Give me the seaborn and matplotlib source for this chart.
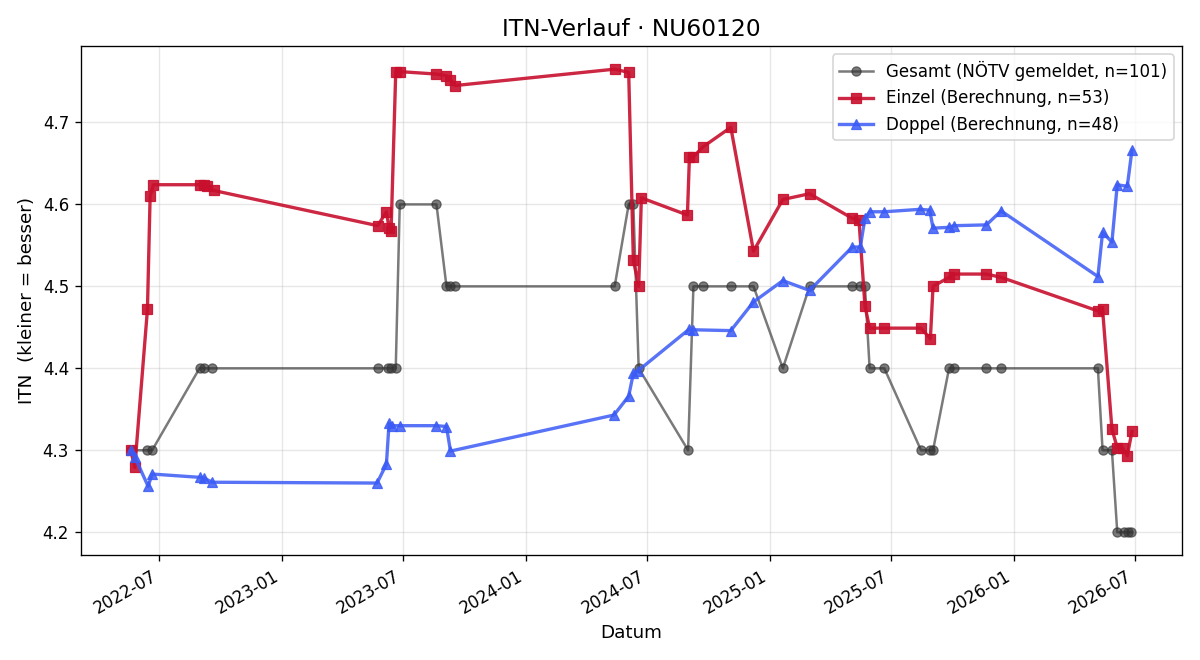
import matplotlib
matplotlib.use("Agg")
import matplotlib.pyplot as plt
import matplotlib.dates as mdates
import pandas as pd
import seaborn as sns

gesamt_dates = ["2022-05-19", "2022-06-13", "2022-06-20", "2022-08-30", "2022-09-06", "2022-09-18",
                "2023-05-24", "2023-06-08", "2023-06-13", "2023-06-20", "2023-06-26", "2023-08-20",
                "2023-09-04", "2023-09-10", "2023-09-17", "2024-05-13", "2024-06-03", "2024-06-10",
                "2024-06-18", "2024-08-31", "2024-09-08", "2024-09-22", "2024-11-03", "2024-12-07",
                "2025-01-20", "2025-03-01", "2025-05-04", "2025-05-16", "2025-05-23", "2025-05-30",
                "2025-06-21", "2025-08-15", "2025-08-29", "2025-09-02", "2025-09-26", "2025-10-03",
                "2025-11-21", "2025-12-13", "2026-05-07", "2026-05-14", "2026-05-28", "2026-06-05",
                "2026-06-15", "2026-06-21", "2026-06-26"]
gesamt_values = [4.3, 4.3, 4.3, 4.4, 4.4, 4.4,
                 4.4, 4.4, 4.4, 4.4, 4.6, 4.6,
                 4.5, 4.5, 4.5, 4.5, 4.6, 4.6,
                 4.4, 4.3, 4.5, 4.5, 4.5, 4.5,
                 4.4, 4.5, 4.5, 4.5, 4.5, 4.4,
                 4.4, 4.3, 4.3, 4.3, 4.4, 4.4,
                 4.4, 4.4, 4.4, 4.3, 4.3, 4.2,
                 4.2, 4.2, 4.2]

einzel_dates = ["2022-05-19", "2022-05-25", "2022-06-13", "2022-06-17", "2022-06-22", "2022-08-30",
                "2022-09-06", "2022-09-10", "2022-09-20", "2023-05-24", "2023-06-06", "2023-06-10",
                "2023-06-13", "2023-06-20", "2023-06-26", "2023-08-20", "2023-09-04", "2023-09-10",
                "2023-09-17", "2024-05-13", "2024-06-03", "2024-06-10", "2024-06-18", "2024-06-22",
                "2024-08-30", "2024-09-02", "2024-09-08", "2024-09-22", "2024-11-03", "2024-12-07",
                "2025-01-20", "2025-03-01", "2025-05-04", "2025-05-14", "2025-05-23", "2025-05-30",
                "2025-06-21", "2025-08-15", "2025-08-29", "2025-09-02", "2025-09-26", "2025-10-03",
                "2025-11-21", "2025-12-13", "2026-05-07", "2026-05-14", "2026-05-28", "2026-06-05",
                "2026-06-13", "2026-06-20", "2026-06-27"]
einzel_values = [4.300, 4.279, 4.472, 4.610, 4.624, 4.624,
                 4.624, 4.622, 4.617, 4.574, 4.591, 4.571,
                 4.567, 4.762, 4.762, 4.759, 4.757, 4.752,
                 4.745, 4.765, 4.761, 4.532, 4.500, 4.608,
                 4.587, 4.658, 4.658, 4.670, 4.694, 4.543,
                 4.606, 4.613, 4.583, 4.581, 4.476, 4.449,
                 4.449, 4.449, 4.436, 4.500, 4.511, 4.515,
                 4.515, 4.511, 4.470, 4.472, 4.326, 4.303,
                 4.303, 4.293, 4.323]

doppel_dates = ["2022-05-19", "2022-05-25", "2022-06-14", "2022-06-20", "2022-08-30", "2022-09-06",
                "2022-09-18", "2023-05-23", "2023-06-06", "2023-06-10", "2023-06-14", "2023-06-26",
                "2023-08-20", "2023-09-04", "2023-09-10", "2024-05-12", "2024-06-03", "2024-06-10",
                "2024-06-17", "2024-09-02", "2024-09-08", "2024-11-03", "2024-12-07", "2025-01-20",
                "2025-03-01", "2025-05-04", "2025-05-16", "2025-05-23", "2025-05-30", "2025-06-21",
                "2025-08-14", "2025-08-28", "2025-09-02", "2025-09-26", "2025-10-03", "2025-11-21",
                "2025-12-13", "2026-05-07", "2026-05-14", "2026-05-28", "2026-06-05", "2026-06-20",
                "2026-06-27"]
doppel_values = [4.300, 4.292, 4.256, 4.271, 4.267, 4.266,
                 4.261, 4.260, 4.283, 4.333, 4.330, 4.330,
                 4.330, 4.329, 4.299, 4.343, 4.366, 4.394,
                 4.397, 4.448, 4.447, 4.446, 4.481, 4.507,
                 4.495, 4.548, 4.548, 4.583, 4.591, 4.591,
                 4.594, 4.593, 4.571, 4.572, 4.574, 4.575,
                 4.592, 4.512, 4.566, 4.554, 4.624, 4.622,
                 4.666]

labels = ["Gesamt (NÖTV gemeldet, n=101)", "Einzel (Berechnung, n=53)", "Doppel (Berechnung, n=48)"]
colors = ["#333333", "#c8102e", "#3b5bf5"]

df_g = pd.DataFrame({"Datum": pd.to_datetime(gesamt_dates), "ITN": gesamt_values})
df_e = pd.DataFrame({"Datum": pd.to_datetime(einzel_dates), "ITN": einzel_values})
df_d = pd.DataFrame({"Datum": pd.to_datetime(doppel_dates), "ITN": doppel_values})

fig, ax = plt.subplots(figsize=(10, 5.5), dpi=120)

sns.lineplot(data=df_g, x="Datum", y="ITN", ax=ax, color=colors[0], alpha=0.65, linewidth=1.5,
             marker="o", markersize=5.5, markeredgecolor=colors[0], estimator=None, sort=False,
             label=labels[0])
sns.lineplot(data=df_e, x="Datum", y="ITN", ax=ax, color=colors[1], alpha=0.9, linewidth=2,
             marker="s", markersize=6.5, markeredgecolor=colors[1], estimator=None, sort=False,
             label=labels[1])
sns.lineplot(data=df_d, x="Datum", y="ITN", ax=ax, color=colors[2], alpha=0.85, linewidth=2,
             marker="^", markersize=6.5, markeredgecolor=colors[2], estimator=None, sort=False,
             label=labels[2])

ax.set_title("ITN-Verlauf · NU60120", fontsize=14)
ax.set_xlabel("Datum", fontsize=11)
ax.set_ylabel("ITN  (kleiner = besser)", fontsize=11)
ax.grid(True, alpha=0.3)
ax.xaxis.set_major_locator(mdates.MonthLocator(bymonth=[1, 7]))
ax.xaxis.set_major_formatter(mdates.DateFormatter("%Y-%m"))
ax.legend(loc="upper right", fontsize=10)
fig.autofmt_xdate()
fig.tight_layout()
fig.savefig("out.png", dpi=120)
